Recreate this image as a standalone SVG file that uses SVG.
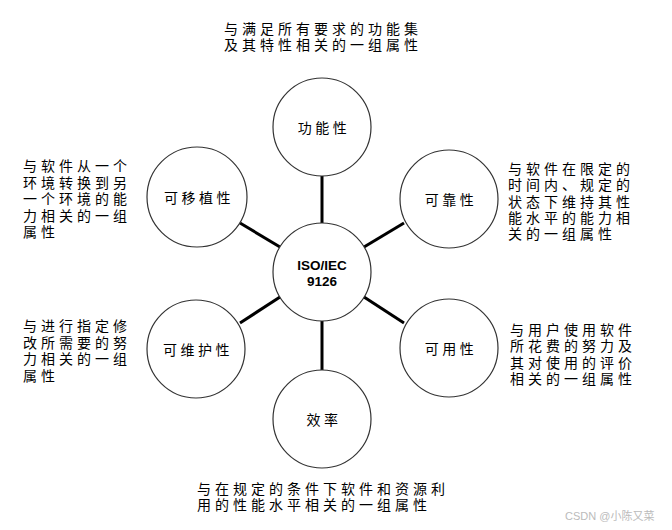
<svg xmlns="http://www.w3.org/2000/svg" width="672" height="530" viewBox="0 0 672 530">
<style>
.node circle{fill:#fff;stroke:#333;stroke-width:1.2}
.lbl{font-family:"Liberation Sans","Noto Sans CJK SC",sans-serif;font-size:14px;letter-spacing:3.5px;fill:#000;text-anchor:middle}
.desc{font-family:"Liberation Sans","Noto Sans CJK SC",sans-serif;font-size:14px;letter-spacing:4px;fill:#000}
.ctr{font-family:"Liberation Sans",Arial,sans-serif;font-size:13.5px;font-weight:bold;fill:#000;text-anchor:middle}
.conn line{stroke:#000;stroke-width:3}
</style>
<rect width="672" height="530" fill="#fff"/>
<g id="connectors" class="conn">
<line x1="322" y1="176" x2="322" y2="223"/>
<line x1="240" y1="223" x2="280" y2="247"/>
<line x1="404" y1="223" x2="364" y2="247"/>
<line x1="240" y1="323" x2="280" y2="297"/>
<line x1="404" y1="323" x2="364" y2="297"/>
<line x1="322" y1="321" x2="322" y2="370"/>
</g>
<g id="center" class="node">
<circle cx="322" cy="272" r="49"/>
<text class="ctr" x="322" y="270">ISO/IEC<tspan x="322" dy="16">9126</tspan></text>
</g>
<g id="functionality" class="node">
<circle cx="322" cy="127" r="49"/>
<text class="lbl" x="324" y="133">功能性</text>
</g>
<g id="portability" class="node">
<circle cx="197" cy="197" r="50"/>
<text class="lbl" x="199" y="203">可移植性</text>
</g>
<g id="reliability" class="node">
<circle cx="449" cy="199" r="49"/>
<text class="lbl" x="451" y="205">可靠性</text>
</g>
<g id="maintainability" class="node">
<circle cx="196" cy="349" r="49"/>
<text class="lbl" x="198" y="355">可维护性</text>
</g>
<g id="usability" class="node">
<circle cx="449" cy="348" r="49"/>
<text class="lbl" x="451" y="354">可用性</text>
</g>
<g id="efficiency" class="node">
<circle cx="322" cy="419" r="49"/>
<text class="lbl" x="324" y="425">效率</text>
</g>
<g id="descriptions">
<text class="desc" x="224" y="34">与满足所有要求的功能集<tspan x="224" dy="16.3">及其特性相关的一组属性</tspan></text>
<text class="desc" x="23" y="171">与软件从一个<tspan x="23" dy="16.5">环境转换到另</tspan><tspan x="23" dy="16.5">一个环境的能</tspan><tspan x="23" dy="16.5">力相关的一组</tspan><tspan x="23" dy="16.5">属性</tspan></text>
<text class="desc" x="508" y="174">与软件在限定的<tspan x="508" dy="16.3">时间内、规定的</tspan><tspan x="508" dy="16.3">状态下维持其性</tspan><tspan x="508" dy="16.3">能水平的能力相</tspan><tspan x="508" dy="16.3">关的一组属性</tspan></text>
<text class="desc" x="23" y="331">与进行指定修<tspan x="23" dy="16.5">改所需要的努</tspan><tspan x="23" dy="16.5">力相关的一组</tspan><tspan x="23" dy="16.5">属性</tspan></text>
<text class="desc" x="510" y="335">与用户使用软件<tspan x="510" dy="16.3">所花费的努力及</tspan><tspan x="510" dy="16.3">其对使用的评价</tspan><tspan x="510" dy="16.3">相关的一组属性</tspan></text>
<text class="desc" x="197" y="494">与在规定的条件下软件和资源利<tspan x="197" dy="16.3">用的性能水平相关的一组属性</tspan></text>
</g>
<text x="565" y="520" font-family="'Liberation Sans','Noto Sans CJK SC',sans-serif" font-size="11" fill="#bbb">CSDN @小陈又菜</text>
</svg>
